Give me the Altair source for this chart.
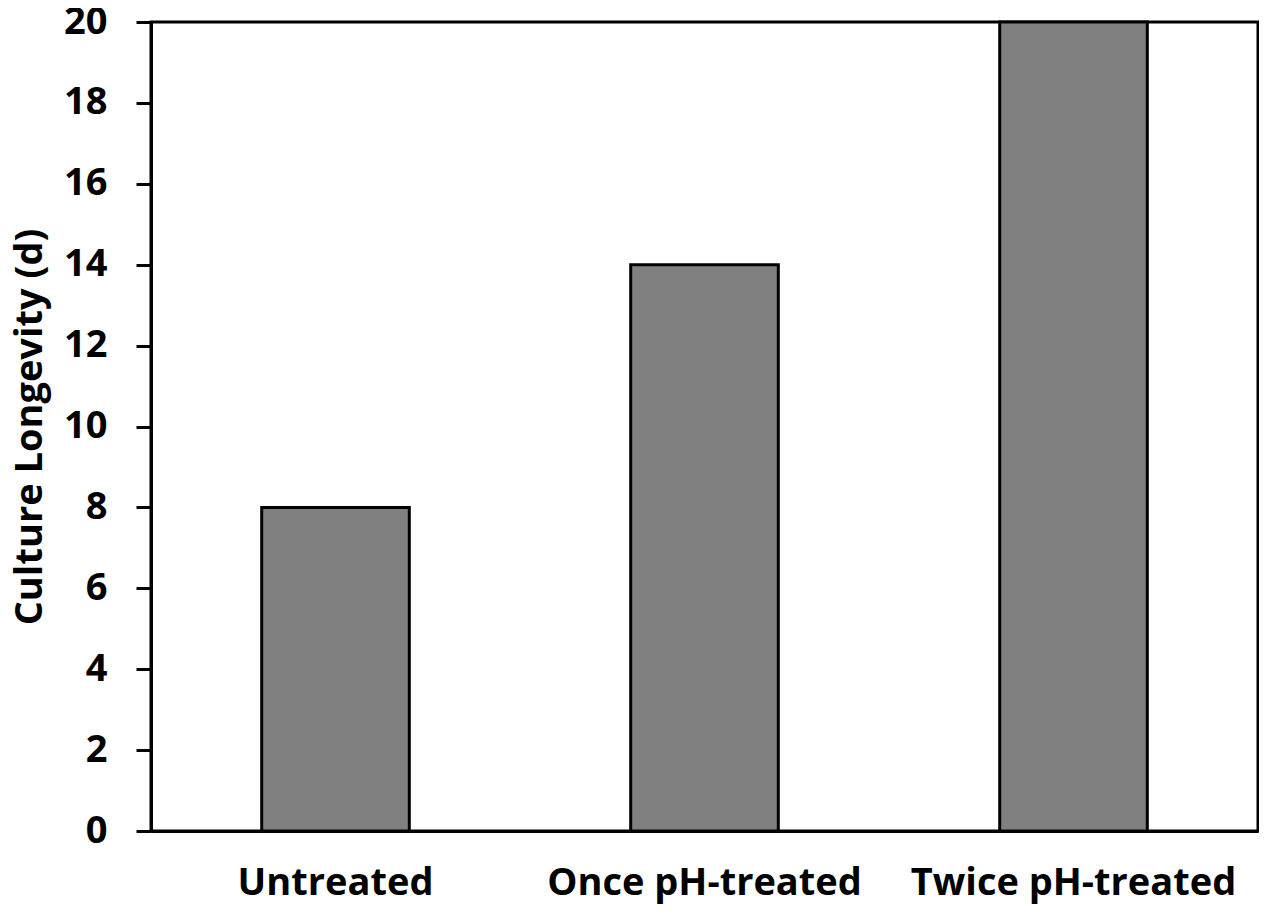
import altair as alt
import pandas as pd

categories = ["Untreated", "Once pH-treated", "Twice pH-treated"]
longevity = [8, 14, 20]

df = pd.DataFrame({"treatment": categories, "days": longevity})

FONT = "Open Sans"

chart = alt.Chart(df).mark_bar(
    color="#808080", stroke="black", strokeWidth=3
).encode(
    x=alt.X("treatment:N", sort=categories, title=None,
            scale=alt.Scale(paddingInner=0.6, paddingOuter=0.3),
            axis=alt.Axis(labelAngle=0, ticks=False, labelPadding=33, labelLimit=0,
                          labelFont=FONT, labelFontSize=38, labelFontWeight="bold",
                          labelColor="black", domainColor="black", domainWidth=3)),
    y=alt.Y("days:Q", title="Culture Longevity (d)",
            scale=alt.Scale(domain=[0, 20], nice=False),
            axis=alt.Axis(values=list(range(0, 21, 2)), grid=False,
                          tickSize=15, tickWidth=3, tickColor="black",
                          domainColor="black", domainWidth=3,
                          labelPadding=29, labelFont=FONT, labelFontSize=38,
                          labelFontWeight="bold", labelColor="black",
                          titleFont=FONT, titleFontSize=38, titleFontWeight="bold",
                          titleColor="black", titleBaseline="alphabetic", titleX=-110)),
).properties(
    width=1107, height=809,
    autosize=alt.AutoSizeParams(type="none"),
    padding={"left": 143, "top": 14, "right": 1, "bottom": 76},
).configure_view(stroke="black", strokeWidth=3)

chart.save("out.html", embed_options={"renderer": "svg", "actions": False})
